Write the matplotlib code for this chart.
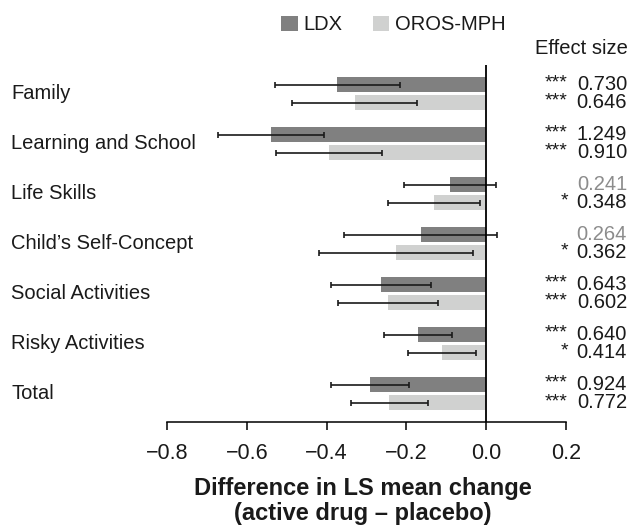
import matplotlib
matplotlib.use("Agg")
import matplotlib.pyplot as plt
import matplotlib.transforms as mtransforms
from matplotlib.patches import Patch
import numpy as np

plt.rcParams['font.family'] = ['Liberation Sans', 'DejaVu Sans']

categories = ["Family", "Learning and School", "Life Skills", "Child\u2019s Self-Concept",
              "Social Activities", "Risky Activities", "Total"]

ldx_diff = [-0.373, -0.540, -0.090, -0.164, -0.263, -0.171, -0.291]
ldx_err = [0.156, 0.133, 0.115, 0.192, 0.125, 0.086, 0.098]
oros_diff = [-0.330, -0.393, -0.130, -0.226, -0.247, -0.111, -0.243]
oros_err = [0.156, 0.133, 0.115, 0.192, 0.125, 0.086, 0.096]

ldx_es = ["0.730", "1.249", "0.241", "0.264", "0.643", "0.640", "0.924"]
ldx_sig = ["***", "***", "", "", "***", "***", "***"]
oros_es = ["0.646", "0.910", "0.348", "0.362", "0.602", "0.414", "0.772"]
oros_sig = ["***", "***", "*", "*", "***", "*", "***"]

xticks = [-0.8, -0.6, -0.4, -0.2, 0.0, 0.2]

LDX_COLOR = "#808080"
OROS_COLOR = "#d0d1d0"
TEXT = "#1a1a1a"
FS = 14.5

W, H = 633, 528
fig = plt.figure(figsize=(W / 100, H / 100), dpi=100)
ax_left, ax_right, ax_top, ax_bottom = 167, 566, 65, 422
ax = fig.add_axes([ax_left / W, 1 - ax_bottom / H,
                   (ax_right - ax_left) / W, (ax_bottom - ax_top) / H])

y = np.arange(len(categories))
off = 0.18
bh = 0.30

ax.barh(y - off, ldx_diff, height=bh, color=LDX_COLOR, zorder=2)
ax.barh(y + off, oros_diff, height=bh, color=OROS_COLOR, zorder=2)
ax.errorbar(ldx_diff, y - off, xerr=ldx_err, fmt="none", ecolor=TEXT,
            elinewidth=1.2, capsize=2.2, capthick=1.2, zorder=3)
ax.errorbar(oros_diff, y + off, xerr=oros_err, fmt="none", ecolor=TEXT,
            elinewidth=1.2, capsize=2.2, capthick=1.2, zorder=3)

ax.axvline(0, color="black", lw=1.3, zorder=4)

ax.set_xlim(-0.8, 0.2)
ax.set_ylim(6.56, -0.57)
ax.set_xticks(xticks)
ax.set_xticklabels([f"{t:.1f}".replace("-", "\u2212") for t in xticks], fontsize=15.5,
                   color=TEXT)
ax.tick_params(axis="x", direction="out", length=6, width=1.1, pad=9)
ax.set_yticks([])
for s in ("top", "right", "left"):
    ax.spines[s].set_visible(False)
ax.spines["bottom"].set_linewidth(1.1)

ax.set_xlabel("Difference in LS mean change\n(active drug \u2013 placebo)",
              fontsize=17, fontweight="bold", labelpad=13, linespacing=1.1, color=TEXT)
ax.xaxis.set_label_coords(0.49, -0.155)
ax.xaxis.label.set_va("top")

# category labels at the far left
trans = mtransforms.blended_transform_factory(fig.transFigure, ax.transData)
for i, cat in enumerate(categories):
    ax.text(11 / W, y[i], cat, transform=trans, ha="left", va="center",
            fontsize=FS, color=TEXT)

# effect sizes with significance stars
for i in range(len(categories)):
    for dy, es, sig in ((-off, ldx_es[i], ldx_sig[i]), (off, oros_es[i], oros_sig[i])):
        color = TEXT if sig else "#8c8c8c"
        ax.text(627 / W, y[i] + dy, es, transform=trans, ha="right", va="center",
                fontsize=FS, color=color)
        if sig:
            ax.text(568 / W, y[i] + dy - 0.03, sig, transform=trans, ha="right",
                    va="center", fontsize=14, color=TEXT)

fig.text(628 / W, 1 - 49 / H, "Effect size", ha="right", va="center",
         fontsize=FS, color=TEXT)

handles = [Patch(facecolor=LDX_COLOR, label="LDX"),
           Patch(facecolor=OROS_COLOR, label="OROS-MPH")]
fig.legend(handles=handles, loc="center", bbox_to_anchor=(393.5 / W, 1 - 25 / H),
           ncol=2, frameon=False, fontsize=FS, handlelength=0.8, handleheight=0.8,
           handletextpad=0.3, columnspacing=1.5, borderpad=0, labelcolor=TEXT)

fig.savefig("out.png", dpi=100)
